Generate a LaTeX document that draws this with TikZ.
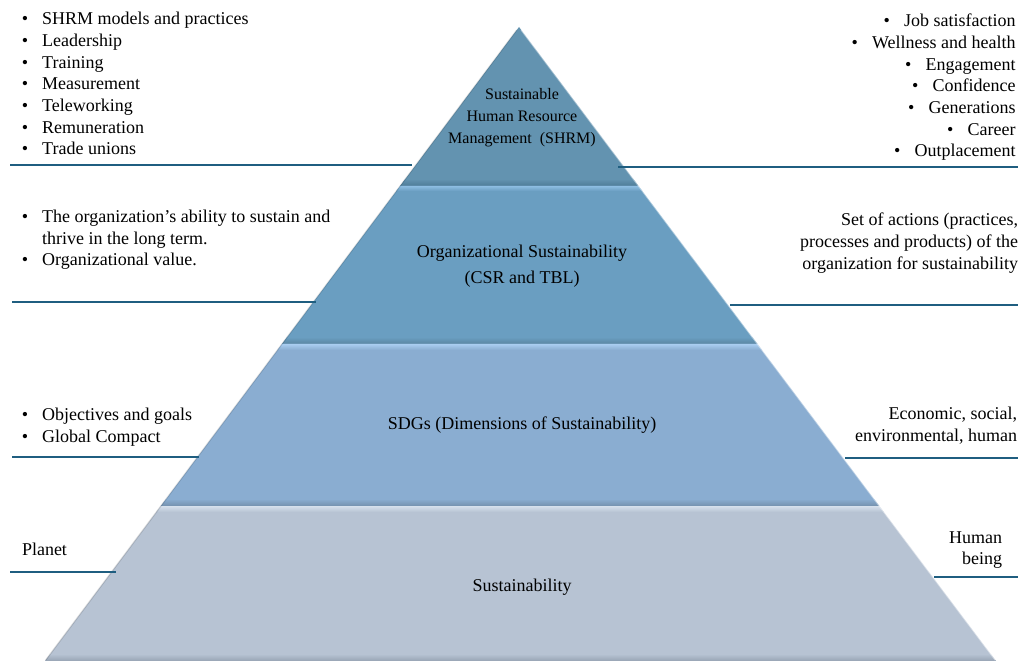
\documentclass[tikz,border=0pt]{standalone}
\usepackage{fontspec}
\setmainfont{Liberation Serif}
\definecolor{lnc}{HTML}{1F5E80}
\definecolor{t1main}{HTML}{6393B0}
\definecolor{t1dark}{HTML}{4E7C98}
\definecolor{t2main}{HTML}{6A9EC1}
\definecolor{t2light}{HTML}{8DBDE2}
\definecolor{t2dark}{HTML}{5A86A2}
\definecolor{t3main}{HTML}{8AADD1}
\definecolor{t3light}{HTML}{A9CDF0}
\definecolor{t3dark}{HTML}{7591AE}
\definecolor{t4main}{HTML}{B7C3D3}
\definecolor{t4light}{HTML}{D6E0EC}
\definecolor{t4dark}{HTML}{97A4B4}
% left and right pyramid edges as functions of y (pixels)
\newcommand\Lx[1]{519-0.7476*(#1-27)}
\newcommand\Rx[1]{519+0.7524*(#1-27)}
\newcommand\band[3]{%
  \path[#3] ({\Lx{#1}},#1) -- ({\Rx{#1}},#1) -- ({\Rx{#2}},#2) -- ({\Lx{#2}},#2) -- cycle;}
\begin{document}
\begin{tikzpicture}[x=0.85pt,y=-0.85pt,
  conn/.style={draw=lnc,line width=1.6pt},
  lbl/.style={inner sep=0pt,outer sep=0pt,font=\fontsize{15.3}{18.4}\selectfont},
  lblw/.style={inner sep=0pt,outer sep=0pt,font=\fontsize{15.3}{18.7}\selectfont},
  tierlbl/.style={inner sep=0pt,outer sep=0pt,font=\fontsize{15.3}{21.3}\selectfont},
  toplbl/.style={inner sep=0pt,outer sep=0pt,font=\fontsize{13.6}{18.7}\selectfont}]
\useasboundingbox (0,0) rectangle (1018,661);
% ---------- pyramid tiers ----------
% tier 1
\band{27}{186}{fill=t1main}
\band{179}{186}{top color=t1main,bottom color=t1dark}
% tier 2
\band{186}{344}{fill=t2main}
\band{186}{191}{top color=t2light,bottom color=t2main}
\band{337}{344}{top color=t2main,bottom color=t2dark}
% tier 3
\band{344}{506}{fill=t3main}
\band{344}{350}{top color=t3light,bottom color=t3main}
\band{499}{506}{top color=t3main,bottom color=t3dark}
% tier 4
\band{506}{661}{fill=t4main}
\band{506}{512}{top color=t4light,bottom color=t4main}
\band{654}{661}{top color=t4main,bottom color=t4dark}
% edge highlights
\draw[white,opacity=0.45,line width=1.2pt] ({\Rx{30}},30) -- ({\Rx{660}},660);
\draw[black,opacity=0.12,line width=1.2pt] ({\Lx{30}},30) -- ({\Lx{660}},660);
% ---------- tier labels ----------
\node[toplbl,anchor=base] (shrm) at (522,100)
  {\begin{tabular}[t]{@{}c@{}}Sustainable\\Human Resource\\Management\ \ (SHRM)\end{tabular}};
\node[tierlbl,anchor=base] (orgs) at (522,258)
  {\begin{tabular}[t]{@{}c@{}}Organizational Sustainability\\(CSR and TBL)\end{tabular}};
\node[lbl,anchor=base] (sdgs) at (522,429) {SDGs (Dimensions of Sustainability)};
\node[lbl,anchor=base] (sust) at (522,591) {Sustainability};
% ---------- side texts ----------
\node[lbl,anchor=base west] (l1) at (21.8,25)
  {\begin{tabular}[t]{@{}l@{\hspace{12pt}}l@{}}
   \textbullet & SHRM models and practices\\
   \textbullet & Leadership\\
   \textbullet & Training\\
   \textbullet & Measurement\\
   \textbullet & Teleworking\\
   \textbullet & Remuneration\\
   \textbullet & Trade unions
   \end{tabular}};
\node[lbl,anchor=base east] (r1) at (1015.5,27)
  {\begin{tabular}[t]{@{}r@{}}
   \textbullet\hspace{12pt}Job satisfaction\\
   \textbullet\hspace{12pt}Wellness and health\\
   \textbullet\hspace{12pt}Engagement\\
   \textbullet\hspace{12pt}Confidence\\
   \textbullet\hspace{12pt}Generations\\
   \textbullet\hspace{12pt}Career\\
   \textbullet\hspace{12pt}Outplacement
   \end{tabular}};
\node[lbl,anchor=base west,font=\fontsize{15.3}{17.9}\selectfont] (l2) at (21.8,223)
  {\begin{tabular}[t]{@{}l@{\hspace{12pt}}l@{}}
   \textbullet & The organization’s ability to sustain and\\
    & thrive in the long term.\\
   \textbullet & Organizational value.
   \end{tabular}};
\node[lblw,anchor=base east] (r2) at (1018,226)
  {\begin{tabular}[t]{@{}r@{}}
   Set of actions (practices,\\
   processes and products) of the\\
   organization for sustainability
   \end{tabular}};
\node[lblw,anchor=base west] (l3) at (21.8,420)
  {\begin{tabular}[t]{@{}l@{\hspace{12pt}}l@{}}
   \textbullet & Objectives and goals\\
   \textbullet & Global Compact
   \end{tabular}};
\node[lblw,anchor=base east] (r3) at (1017,419)
  {\begin{tabular}[t]{@{}r@{}}
   Economic, social,\\
   environmental, human
   \end{tabular}};
\node[lbl,anchor=base west] (l4) at (22,555) {Planet};
\node[lbl,anchor=base east,font=\fontsize{15.3}{17.9}\selectfont] (r4) at (1002,543)
  {\begin{tabular}[t]{@{}r@{}}Human\\being\end{tabular}};
% ---------- connector lines ----------
\coordinate (a1) at (10,165);   \coordinate (b1) at (412,165);
\coordinate (a2) at (618,167);  \coordinate (b2) at (1018,167);
\coordinate (a3) at (12,302);   \coordinate (b3) at (316,302);
\coordinate (a4) at (730,305);  \coordinate (b4) at (1018,305);
\coordinate (a5) at (12,457);   \coordinate (b5) at (199,457);
\coordinate (a6) at (845,458);  \coordinate (b6) at (1018,458);
\coordinate (a7) at (10,572);   \coordinate (b7) at (116,572);
\coordinate (a8) at (934,577);  \coordinate (b8) at (1018,577);
\foreach \i in {1,...,8} \draw[conn] (a\i) -- (b\i);
\end{tikzpicture}
\end{document}
